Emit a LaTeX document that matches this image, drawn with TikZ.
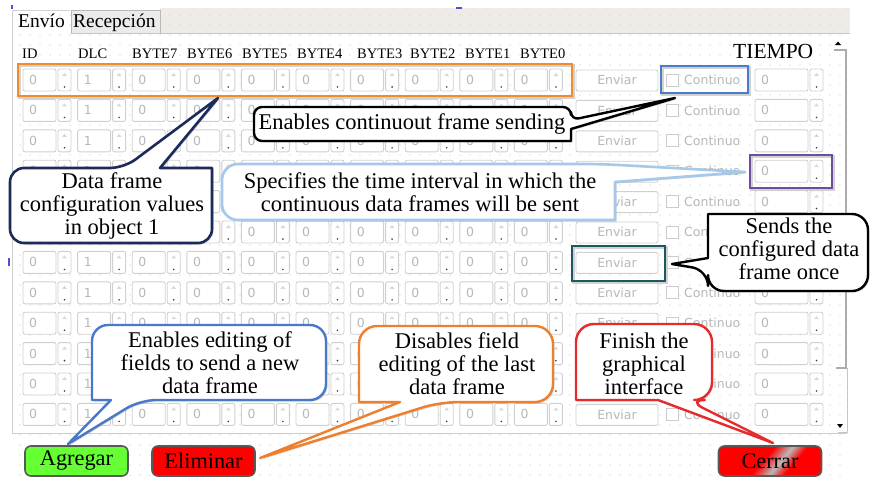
\documentclass[tikz,border=0pt]{standalone}
\usepackage{fontspec}
\setmainfont{Liberation Serif}
\newfontfamily\wfont{DejaVu Sans}
\usetikzlibrary{shadows}

\definecolor{stripbg}{HTML}{EFECE8}
\definecolor{griddot}{HTML}{C6C6C6}
\definecolor{wborder}{HTML}{D0D0D0}
\definecolor{wtext}{HTML}{B8B8B8}
\definecolor{hlorange}{HTML}{F28C28}
\definecolor{hlblue}{HTML}{4A7CC9}
\definecolor{hlpurple}{HTML}{6E4D9A}
\definecolor{hlteal}{HTML}{1E5662}
\definecolor{navyline}{HTML}{1C2B5C}
\definecolor{skyline}{HTML}{A6C8EA}
\definecolor{cblue}{HTML}{4A78C8}
\definecolor{corange}{HTML}{EE7F2D}
\definecolor{cred}{HTML}{E52B2B}
\definecolor{agreen}{HTML}{66FF33}
\definecolor{selblue}{HTML}{4F4FD8}

\pgfdeclarehorizontalshading{cerrarshade}{100bp}{color(0bp)=(red); color(46bp)=(red); color(56bp)=(gray!55); color(64bp)=(red); color(100bp)=(red)}

\tikzset{
  field/.style={draw=wborder, fill=white, line width=0.9, rounded corners=2},
  wlabel/.style={font=\wfont\fontsize{12.5}{14}\selectfont, text=wtext, inner sep=0},
  head/.style={font=\fontsize{14.5}{16}\selectfont, anchor=base west, inner sep=0},
  tabtext/.style={font=\fontsize{19.5}{21}\selectfont, anchor=base west, inner sep=0},
  callbox/.style={fill=white, line width=2.4, line join=round,
    drop shadow={opacity=0.3, shadow xshift=1.5pt, shadow yshift=-1.5pt}},
  calltext/.style={font=\fontsize{22.5}{23}\selectfont, align=center, inner sep=0},
  hlbox/.style={line width=2.6},
  hlshadow/.style={line width=2.6, draw=gray!35, xshift=1.2pt, yshift=-1.2pt},
  btn/.style={draw=gray!70!black, line width=1.6, rounded corners=6,
    font=\fontsize{22.3}{24}\selectfont, minimum width=103, minimum height=30, inner sep=0},
}

% spin box: name, left x, centre y, value
\newcommand\spinfield[4]{%
  \draw[field] (#2,#3-11) rectangle (#2+33,#3+11);
  \draw[field] (#2+35,#3-11) rectangle (#2+48,#3+11);
  \fill[gray!30] (#2+39,#3-4) -- (#2+41.5,#3-7) -- (#2+44,#3-4) -- cycle;
  \fill[black!75] (#2+41.5,#3+7) circle (0.9);
  \node[wlabel, anchor=west] (#1) at (#2+6,#3) {#4};
}
% interval spin box in the last column
\newcommand\timefield[2]{%
  \draw[field] (755,#2-11) rectangle (808,#2+11);
  \draw[field] (810,#2-11) rectangle (823,#2+11);
  \fill[gray!30] (814,#2-4) -- (816.5,#2-7) -- (819,#2-4) -- cycle;
  \fill[black!75] (816.5,#2+7) circle (0.9);
  \node[wlabel, anchor=west] (#1) at (761,#2) {0};
}

\begin{document}
\begin{tikzpicture}[x=1pt,y=-1pt]
\useasboundingbox (0,0) rectangle (872,480);
\fill[white] (0,0) rectangle (872,480);

% tab bar strip
\fill[stripbg] (160,8) rectangle (850,33);

% designer grid
\foreach \gx in {20,30,...,840}{
  \foreach \gy in {15,25,...,475}{
    \fill[griddot] (\gx,\gy) circle (0.65);
  }
}

% tabs
\draw[gray!35, line width=0.8] (12,33) -- (12,10) -- (70,10);
\draw[gray!55, fill=gray!16, line width=0.8] (71,33) -- (71,10) -- (160,10) -- (160,33);
\node[tabtext] (tabEnvio) at (18,27) {Envío};
\node[tabtext] (tabRecep) at (73,27) {Recepción};

% pane frame
\draw[gray!45, line width=0.8] (71,33) -- (850,33);
\draw[gray!40, line width=0.8] (12,33) -- (12,433) -- (847,433);

% selection handles
\fill[selblue] (456,7) rectangle (462,9);
\fill[selblue] (11,5) rectangle (13,9);
\fill[selblue] (8,258) rectangle (10,266);

% column headers
\node[head] (hID) at (22,58) {ID};
\node[head] (hDLC) at (78,58) {DLC};
\node[head] (hB7) at (132,58) {BYTE7};
\node[head] (hB6) at (187,58) {BYTE6};
\node[head] (hB5) at (242,58) {BYTE5};
\node[head] (hB4) at (297,58) {BYTE4};
\node[head] (hB3) at (357,58) {BYTE3};
\node[head] (hB2) at (410,58) {BYTE2};
\node[head] (hB1) at (465,58) {BYTE1};
\node[head] (hB0) at (520,58) {BYTE0};
\node[font=\fontsize{21.5}{23}\selectfont, anchor=base west, inner sep=0] (hTime) at (733,58) {TIEMPO};

% frame rows
\foreach \r [evaluate=\r as \yy using 80+30.4*\r] in {0,...,11}{
  \foreach \c [evaluate=\c as \xx using 23+54.6*\c] in {0,...,9}{
    \ifnum\c=1 \def\val{1}\else\def\val{0}\fi
    \spinfield{v-\r-\c}{\xx}{\yy}{\val}
  }
  \draw[field] (576,\yy-10) rectangle (658,\yy+11);
  \node[wlabel] (send-\r) at (617,\yy) {Enviar};
  \draw[draw=gray!40, fill=white, line width=0.9] (666,\yy-6) rectangle (678,\yy+6);
  \node[wlabel, anchor=west] (cont-\r) at (684,\yy) {Continuo};
  \timefield{t-\r}{\yy}
}

% scroll bar
\draw[gray!65, line width=1.4] (834,50) -- (846,50) -- (846,368) -- (836,368);
\draw[gray!45, line width=1] (847,368) -- (847,432) -- (838,432);
\fill[black] (835,45) -- (838,41.5) -- (841,45) -- cycle;
\fill[black] (837,424) -- (843,424) -- (840,428) -- cycle;

% highlighted widgets
\draw[hlshadow] (18,64) rectangle (572,96);
\draw[hlbox, draw=hlorange] (18,64) rectangle (572,96);
\draw[hlshadow] (661,66) rectangle (748,93);
\draw[hlbox, draw=hlblue] (661,66) rectangle (748,93);
\draw[hlshadow] (750,155) rectangle (832,188);
\draw[hlbox, draw=hlpurple] (750,155) rectangle (832,188);
\draw[hlshadow] (572,246) rectangle (665,281);
\draw[hlbox, draw=hlteal] (572,246) rectangle (665,281);

% callout tips
\coordinate (tipA) at (675,98);
\coordinate (tipB) at (218,98);
\coordinate (tipC) at (745,172);
\coordinate (tipD) at (672,264);
\coordinate (tipE) at (68,444);
\coordinate (tipF) at (260,458);
\coordinate (tipG) at (773,443);

% callouts
\draw[callbox, draw=black, rounded corners=8] (254,124) -- (254,107) -- (571,107) -- (571,120) [sharp corners] -- (tipA) -- (571,129) -- (571,141) [rounded corners=8] -- (254,141) -- cycle;
\node[calltext] (txtA) at (412,124) {Enables continuout frame sending};

\draw[callbox, draw=navyline, line width=2.6, rounded corners=14] (10,205) -- (10,168) -- (124,168) [sharp corners] -- (tipB) -- (160,168) -- (212,168) [rounded corners=14] -- (212,243) -- (10,243) -- cycle;
\node[calltext] (txtB) at (112,206) {Data frame\\configuration values\\in object 1};

\draw[callbox, draw=skyline, line width=2.6, rounded corners=16] (222,192) -- (222,164) -- (601,164) [sharp corners] -- (tipC) -- (615,182) -- (615,220) [rounded corners=16] -- (222,220) -- cycle;
\node[calltext] (txtC) at (420,192) {Specifies the time interval in which the\\continuous data frames will be sent};

\draw[callbox, draw=black, rounded corners=16] (788,214) -- (868,214) -- (868,291) -- (708,291) -- (708,270) [sharp corners] -- (tipD) -- (708,258) -- (708,214) [rounded corners=16] -- cycle;
\node[calltext] (txtD) at (789,249) {Sends the\\configured data\\frame once};

\draw[callbox, draw=cblue, rounded corners=16] (92,362) -- (92,325) -- (326,325) -- (326,400) -- (140,400) [sharp corners] -- (tipE) -- (111,400) -- (92,400) [rounded corners=16] -- cycle;
\node[calltext] (txtE) at (210,363) {Enables editing of\\fields to send a new\\data frame};

\draw[callbox, draw=corange, rounded corners=18] (359,364) -- (359,326) -- (553,326) -- (553,402) -- (440,402) [sharp corners] -- (tipF) -- (400,402) -- (359,402) [rounded corners=18] -- cycle;
\node[calltext] (txtF) at (457,364) {Disables field\\editing of the last\\data frame};

\draw[callbox, draw=cred, rounded corners=18] (576,362) -- (576,324) -- (712,324) -- (712,400) -- (687,400) [sharp corners] -- (tipG) -- (658,400) -- (576,400) [rounded corners=18] -- cycle;
\node[calltext] (txtG) at (644,364) {Finish the\\graphical\\interface};

% buttons
\node[btn, fill=agreen] (agregar) at (76.5,461) {Agregar};
\node[btn, fill=red] (eliminar) at (203.5,461) {Eliminar};
\node[btn, shade, shading=cerrarshade, shading angle=-40] (cerrar) at (770,461) {Cerrar};
\end{tikzpicture}
\end{document}
